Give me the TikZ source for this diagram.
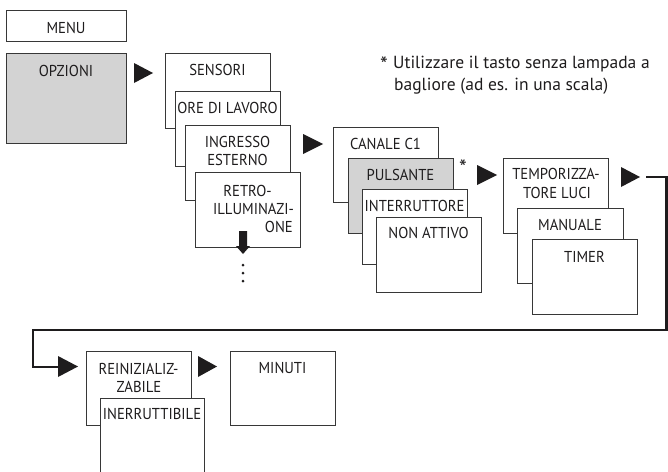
\documentclass[tikz,border=0pt]{standalone}
\usepackage{fontspec}
\setmainfont{PT Sans}
\newfontfamily\lblfont{PT Sans}[FakeStretch=0.93]
\usetikzlibrary{calc}
\definecolor{boxgray}{RGB}{211,211,211}
\definecolor{ink}{RGB}{30,28,29}
\definecolor{edge}{RGB}{55,55,55}
\tikzset{
  mbox/.style={draw=edge, fill=white, line width=0.9pt, anchor=north west, inner sep=0pt, outer sep=0pt, minimum width=105, minimum height=75},
  gbox/.style={mbox, fill=boxgray},
  lbl/.style={anchor=base, inner sep=0pt, text=ink, font=\lblfont\fontsize{15.8}{18}\selectfont},
  note/.style={anchor=base west, inner sep=0pt, text=ink, font=\fontsize{17.5}{21}\selectfont},
  starlbl/.style={anchor=center, inner sep=0pt, text=ink, font=\fontsize{22}{22}\selectfont},
  tri/.style={fill=ink, draw=none},
  conn/.style={draw=ink, line width=2.2pt},
}
\begin{document}
\begin{tikzpicture}[x=1pt,y=-1pt]
\useasboundingbox (0,0) rectangle (668,471);
\clip (0,0) rectangle (668,471);
% left column
\node[mbox, minimum width=120, minimum height=31] (menu) at (6,10) {};
\node[lbl] (tmenu) at (66,33) {MENU};
\node[gbox, minimum width=120, minimum height=90] (opz) at (6,53) {};
\node[lbl] (topz) at (66,76) {OPZIONI};
\fill[tri] (134,63) -- (153,73) -- (134,83) -- cycle;
% sensori stack
\node[mbox] (sens) at (165,53) {};
\node[lbl] (tsens) at (217.5,75) {SENSORI};
\node[mbox] (ore) at (175,91) {};
\node[lbl] (tore) at (227.5,113) {ORE DI LAVORO};
\node[mbox] (ingr) at (185,125) {};
\node[lbl] (tingra) at (237.5,147) {INGRESSO};
\node[lbl] (tingrb) at (237.5,165) {ESTERNO};
\node[mbox] (retro) at (195,172) {};
\node[lbl] (tretroa) at (247.5,196) {RETRO-};
\node[lbl] (tretrob) at (253.5,214) {ILLUMINAZI-};
\node[lbl, anchor=base east] (tretroc) at (293,232) {ONE};
\fill[tri] (239,231) -- (247,231) -- (247,246) -- (250,246) -- (243,254) -- (236,246) -- (239,246) -- cycle;
\fill[ink] (243,265) circle (1.5) (243,273) circle (1.5) (243,281) circle (1.5);
\fill[tri] (303,134) -- (323,144) -- (303,154) -- cycle;
% canale stack
\node[mbox] (canale) at (333,127) {};
\node[lbl] (tcanale) at (385.5,149) {CANALE C1};
\node[gbox] (puls) at (348,158) {};
\node[lbl] (tpuls) at (400.5,180) {PULSANTE};
\node[mbox] (interr) at (362,189) {};
\node[lbl] (tinterr) at (414.5,211) {INTERRUTTORE};
\node[mbox] (nonatt) at (376,217) {};
\node[lbl] (tnonatt) at (428.5,238) {NON ATTIVO};
\node[starlbl] (star) at (463,168) {*};
\fill[tri] (477,165) -- (497,175) -- (477,185) -- cycle;
% temporizzatore stack
\node[mbox] (temp) at (503,158) {};
\node[lbl] (ttempa) at (556,179) {TEMPORIZZA-};
\node[lbl] (ttempb) at (557,198) {TORE LUCI};
\node[mbox, minimum width=106] (man) at (517,208) {};
\node[lbl] (tman) at (570,230) {MANUALE};
\node[mbox] (timer) at (532,239) {};
\node[lbl] (ttimer) at (584.5,262) {TIMER};
\fill[tri] (621,167) -- (640,177) -- (621,187) -- cycle;
% long connector
\coordinate (c0) at (646,177);
\coordinate (c1) at (60,367);
\draw[conn, line join=miter] (c0) -- (666.5,177) -- (666.5,330) -- (33,330) -- (33,367) -- (c1);
\fill[tri] (58,356) -- (78,366.5) -- (58,377) -- cycle;
% bottom row
\node[mbox, minimum height=74] (reiniz) at (86,351) {};
\node[lbl] (treiniza) at (138.5,374) {REINIZIALIZ-};
\node[lbl] (treinizb) at (139,392) {ZABILE};
\node[mbox, minimum width=104] (inerr) at (100,398) {};
\node[lbl] (tinerr) at (152,419) {INERRUTTIBILE};
\fill[tri] (198,356) -- (217,366.5) -- (198,377) -- cycle;
\node[mbox, minimum height=74] (minuti) at (230,351) {};
\node[lbl] (tminuti) at (282.5,373) {MINUTI};
% note
\node[starlbl] (nstar) at (384,65) {*};
\node[note] (nla) at (393,68) {Utilizzare il tasto senza lampada a};
\node[note] (nlb) at (394,90) {bagliore (ad es. in una scala)};
\end{tikzpicture}
\end{document}
